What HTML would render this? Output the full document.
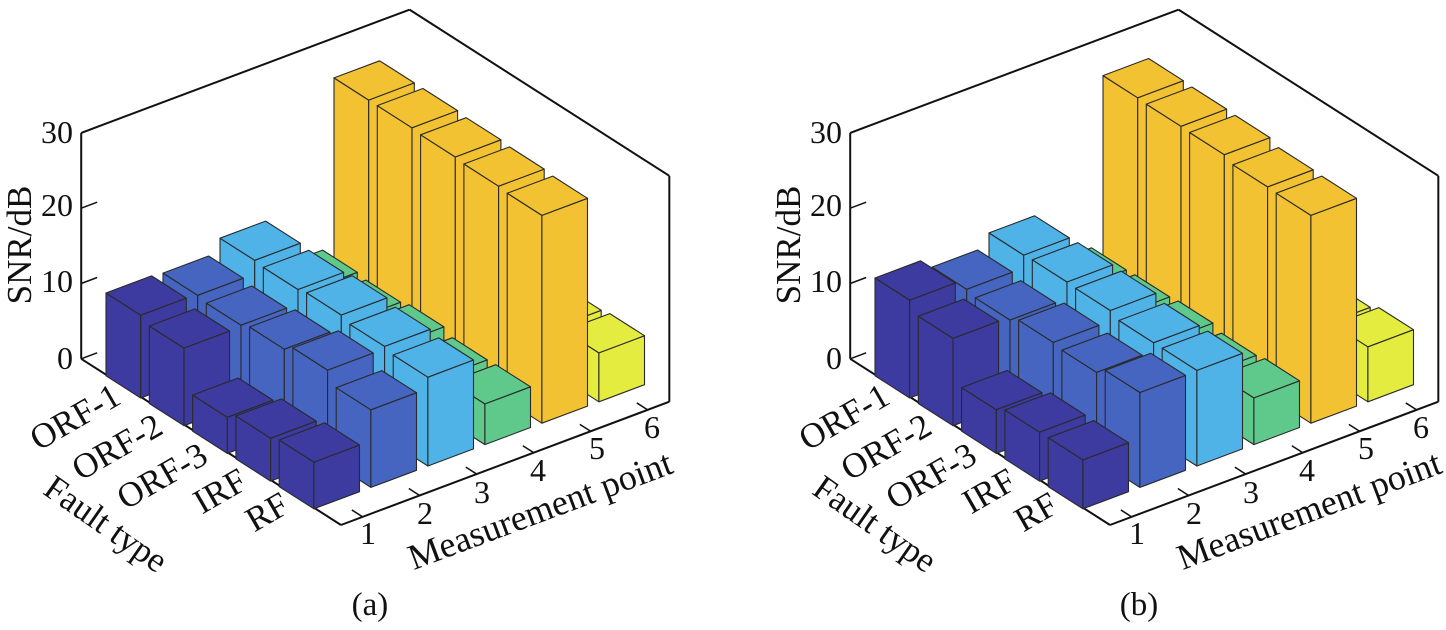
<!DOCTYPE html>
<html><head><meta charset="utf-8"><style>
html,body{margin:0;padding:0;background:#fff}
svg{display:block}
text{font-family:"Liberation Serif",serif;fill:#111}
</style></head><body>
<svg id="s" width="1446" height="630" viewBox="0 0 1446 630" xmlns="http://www.w3.org/2000/svg">
<g id="g"></g>
<g font-size="32">
<text x="73" y="143" text-anchor="end">30</text>
<text x="73" y="216" text-anchor="end">20</text>
<text x="73" y="292" text-anchor="end">10</text>
<text x="73" y="369" text-anchor="end">0</text>
<text transform="translate(31,245) rotate(-90)" text-anchor="middle" font-size="35">SNR/dB</text>
<g font-size="35">
<text transform="translate(75,417) rotate(-30)" text-anchor="middle" dominant-baseline="central">ORF-1</text>
<text transform="translate(117,447) rotate(-30)" text-anchor="middle" dominant-baseline="central">ORF-2</text>
<text transform="translate(162,476) rotate(-30)" text-anchor="middle" dominant-baseline="central">ORF-3</text>
<text transform="translate(220,491) rotate(-30)" text-anchor="middle" dominant-baseline="central">IRF</text>
<text transform="translate(267,512) rotate(-30)" text-anchor="middle" dominant-baseline="central">RF</text>
<text transform="translate(106,524) rotate(35)" text-anchor="middle" dominant-baseline="central">Fault type</text>
<text transform="translate(540,510) rotate(-20.5)" text-anchor="middle" dominant-baseline="central" font-size="36">Measurement point</text>
</g>
<text x="368" y="533" text-anchor="middle" dominant-baseline="central">1</text>
<text x="425" y="513" text-anchor="middle" dominant-baseline="central">2</text>
<text x="482" y="492" text-anchor="middle" dominant-baseline="central">3</text>
<text x="538" y="470" text-anchor="middle" dominant-baseline="central">4</text>
<text x="597" y="448" text-anchor="middle" dominant-baseline="central">5</text>
<text x="652" y="427" text-anchor="middle" dominant-baseline="central">6</text>
<text x="370" y="615" text-anchor="middle" font-size="33">(a)</text>
</g>
<g font-size="32" transform="translate(769,0)">
<text x="73" y="143" text-anchor="end">30</text>
<text x="73" y="216" text-anchor="end">20</text>
<text x="73" y="292" text-anchor="end">10</text>
<text x="73" y="369" text-anchor="end">0</text>
<text transform="translate(31,245) rotate(-90)" text-anchor="middle" font-size="35">SNR/dB</text>
<g font-size="35">
<text transform="translate(75,417) rotate(-30)" text-anchor="middle" dominant-baseline="central">ORF-1</text>
<text transform="translate(117,447) rotate(-30)" text-anchor="middle" dominant-baseline="central">ORF-2</text>
<text transform="translate(162,476) rotate(-30)" text-anchor="middle" dominant-baseline="central">ORF-3</text>
<text transform="translate(220,491) rotate(-30)" text-anchor="middle" dominant-baseline="central">IRF</text>
<text transform="translate(267,512) rotate(-30)" text-anchor="middle" dominant-baseline="central">RF</text>
<text transform="translate(106,524) rotate(35)" text-anchor="middle" dominant-baseline="central">Fault type</text>
<text transform="translate(540,510) rotate(-20.5)" text-anchor="middle" dominant-baseline="central" font-size="36">Measurement point</text>
</g>
<text x="368" y="533" text-anchor="middle" dominant-baseline="central">1</text>
<text x="425" y="513" text-anchor="middle" dominant-baseline="central">2</text>
<text x="482" y="492" text-anchor="middle" dominant-baseline="central">3</text>
<text x="538" y="470" text-anchor="middle" dominant-baseline="central">4</text>
<text x="597" y="448" text-anchor="middle" dominant-baseline="central">5</text>
<text x="652" y="427" text-anchor="middle" dominant-baseline="central">6</text>
<text x="370" y="615" text-anchor="middle" font-size="33">(b)</text>
</g>
</svg>
<script>
(function(){
var g=document.getElementById('g');var NS='http://www.w3.org/2000/svg';
function P(i,j,z,ox){return [341+ox+(i-6)*43.3+(j-0.62)*57, 525+(i-6)*27.7-(j-0.62)*21.4-7.53*z];}
function add(tag,attrs){var e=document.createElementNS(NS,tag);for(var k in attrs)e.setAttribute(k,attrs[k]);g.appendChild(e);return e;}
function poly(pts,fill){add('polygon',{points:pts.map(function(p){return p[0].toFixed(1)+','+p[1].toFixed(1)}).join(' '),fill:fill,stroke:'#2a2a2a','stroke-width':'1.1','stroke-linejoin':'round'});}
function line(a,b,w){add('line',{x1:a[0],y1:a[1],x2:b[0],y2:b[1],stroke:'#111','stroke-width':w||2});}
var cols=['#3d3aa0','#4565c1','#4fb3e7','#5ec98b','#f2c233','#e5ec40'];
var HA=[[11.0,10.3,4.8,5.7,6.2],[10.8,10.5,11.0,11.9,10.3],[12.6,12.4,12.7,12.2,11.8],[5.9,5.6,6.0,5.3,5.4],[28.2,28.2,28.0,27.8,27.6],[5,5,5.5,6.2,6.5]];
var HB=[[13.0,11.6,5.8,6.5,6.5],[11.6,11.2,11.9,11.6,12.6],[13.3,13.4,13.3,12.7,12.7],[6.2,6.3,6.5,5.9,6.2],[28.5,28.4,28.3,27.7,27.6],[6,6,6,6.6,7.3]];
function panel(H,ox){
 var L0=P(0,0.62,0,ox),L1=P(0,0.62,30,ox),F0=P(6,0.62,0,ox),R0=P(6,6.38,0,ox),R1=P(6,6.38,30,ox),B1=P(0,6.38,30,ox);
 line(L0,L1);line(L1,B1);line(B1,R1);line(R1,R0);line(L0,F0);line(F0,R0);
 for(var z=0;z<=30;z+=10){line(P(0,0.62,z,ox),P(0,0.9,z,ox),1.5);}
 for(var j=1;j<=6;j++){line(P(6,j,0,ox),P(5.75,j,0,ox),1.5);}
 for(var i=1;i<=5;i++){line(P(i,0.62,0,ox),P(i,0.9,0,ox),1.5);}
 var bars=[];
 for(var j=1;j<=6;j++)for(var i=1;i<=5;i++)bars.push([i,j,H[j-1][i-1]]);
 bars.sort(function(a,b){return (27.7*a[0]-21.4*a[1])-(27.7*b[0]-21.4*b[1]);});
 bars.forEach(function(b){
  var i=b[0],j=b[1],h=b[2],c=cols[j-1],w=0.4;
  var a0=P(i-w,j-w,0,ox),b0=P(i+w,j-w,0,ox),c0=P(i+w,j+w,0,ox);
  var a1=P(i-w,j-w,h,ox),b1=P(i+w,j-w,h,ox),c1=P(i+w,j+w,h,ox),d1=P(i-w,j+w,h,ox);
  poly([a0,b0,b1,a1],c);
  poly([b0,c0,c1,b1],c);
  poly([a1,b1,c1,d1],c);
 });
}
panel(HA,0);panel(HB,769);
})();
</script>
</body></html>
